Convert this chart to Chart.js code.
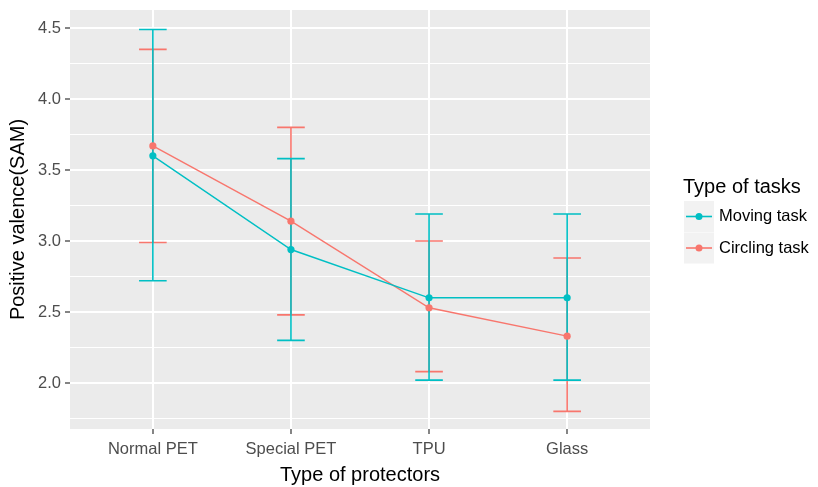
<!DOCTYPE html>
<html>
<head>
<meta charset="utf-8">
<script src="https://cdn.jsdelivr.net/npm/chart.js@4.4.1/dist/chart.umd.min.js"></script>
<style>
  html, body { margin: 0; padding: 0; background: #fff; }
</style>
</head>
<body>
<canvas id="chart" width="818" height="487"></canvas>
<script>
var categories = ['Normal PET', 'Special PET', 'TPU', 'Glass'];

// Moving task (teal)
var movingMean = [3.60, 2.94, 2.60, 2.60];
var movingLow  = [2.72, 2.30, 2.02, 2.02];
var movingHigh = [4.49, 3.58, 3.19, 3.19];

// Circling task (red)
var circlingMean = [3.67, 3.14, 2.53, 2.33];
var circlingLow  = [2.99, 2.48, 2.08, 1.80];
var circlingHigh = [4.35, 3.80, 3.00, 2.88];

var yTicks = [1.75, 2.0, 2.25, 2.5, 2.75, 3.0, 3.25, 3.5, 3.75, 4.0, 4.25, 4.5];
var yMajor = [2.0, 2.5, 3.0, 3.5, 4.0, 4.5];

var TEAL = '#00BFC4';
var RED = '#F8766D';
var FONT = '"Liberation Sans", Arial, sans-serif';

function isMajor(v) {
    return yMajor.some(function (m) { return Math.abs(m - v) < 1e-6; });
}

function toPoints(arr) {
    return arr.map(function (v, i) { return { x: i + 1, y: v }; });
}

var panelBg = {
    id: 'panelBg',
    beforeDraw: function (chart) {
        var a = chart.chartArea, ctx = chart.ctx;
        ctx.save();
        ctx.fillStyle = '#EBEBEB';
        ctx.fillRect(a.left, a.top, a.right - a.left, a.bottom - a.top);
        ctx.restore();
    }
};

var errorBars = {
    id: 'errorBars',
    beforeDatasetsDraw: function (chart) {
        var ctx = chart.ctx, xs = chart.scales.x, ys = chart.scales.y;
        var sets = [
            { low: circlingLow, high: circlingHigh, color: RED },
            { low: movingLow, high: movingHigh, color: TEAL }
        ];
        ctx.save();
        ctx.lineWidth = 1.6;
        sets.forEach(function (s) {
            ctx.strokeStyle = s.color;
            s.low.forEach(function (lo, i) {
                var x = xs.getPixelForValue(i + 1);
                var x0 = xs.getPixelForValue(i + 0.9);
                var x1 = xs.getPixelForValue(i + 1.1);
                var yl = ys.getPixelForValue(lo);
                var yh = ys.getPixelForValue(s.high[i]);
                ctx.beginPath();
                ctx.moveTo(x, yl); ctx.lineTo(x, yh);
                ctx.moveTo(x0, yl); ctx.lineTo(x1, yl);
                ctx.moveTo(x0, yh); ctx.lineTo(x1, yh);
                ctx.stroke();
            });
        });
        ctx.restore();
    }
};

var ggLegend = {
    id: 'ggLegend',
    afterDraw: function (chart) {
        var ctx = chart.ctx;
        var items = [
            { label: 'Moving task', color: TEAL },
            { label: 'Circling task', color: RED }
        ];
        ctx.save();
        ctx.fillStyle = '#000';
        ctx.font = '20px ' + FONT;
        ctx.textBaseline = 'middle';
        ctx.fillText('Type of tasks', 683, 187);
        items.forEach(function (it, i) {
            var top = 201 + i * 31.5;
            ctx.fillStyle = '#F2F2F2';
            ctx.fillRect(684, top, 30, 31);
            var cy = top + 15.5;
            ctx.strokeStyle = it.color;
            ctx.lineWidth = 1.6;
            ctx.beginPath();
            ctx.moveTo(686, cy); ctx.lineTo(712, cy);
            ctx.stroke();
            ctx.fillStyle = it.color;
            ctx.beginPath();
            ctx.arc(699, cy, 3.5, 0, Math.PI * 2);
            ctx.fill();
            ctx.fillStyle = '#000';
            ctx.font = '16.5px ' + FONT;
            ctx.fillText(it.label, 719, cy);
        });
        ctx.restore();
    }
};

window.onload = function () {
    var ctx = document.getElementById('chart');
    new Chart(ctx, {
        type: 'line',
        data: {
            datasets: [
                {
                    label: 'Moving task',
                    data: toPoints(movingMean),
                    borderColor: TEAL,
                    backgroundColor: TEAL,
                    borderWidth: 1.4,
                    pointRadius: 3.6,
                    pointBorderWidth: 0,
                    tension: 0
                },
                {
                    label: 'Circling task',
                    data: toPoints(circlingMean),
                    borderColor: RED,
                    backgroundColor: RED,
                    borderWidth: 1.4,
                    pointRadius: 3.6,
                    pointBorderWidth: 0,
                    tension: 0
                }
            ]
        },
        options: {
            responsive: false,
            animation: false,
            layout: { padding: { top: 10, right: 168, left: 0, bottom: 0 } },
            plugins: {
                legend: { display: false },
                tooltip: { enabled: false }
            },
            scales: {
                x: {
                    type: 'linear',
                    min: 0.4,
                    max: 4.6,
                    afterBuildTicks: function (s) {
                        s.ticks = categories.map(function (c, i) { return { value: i + 1 }; });
                    },
                    afterFit: function (s) {
                        s.height = 58;
                        s.paddingLeft = 0; s.paddingRight = 0;
                    },
                    border: { display: false },
                    grid: {
                        color: '#FFFFFF',
                        lineWidth: 2,
                        tickColor: '#333333',
                        tickLength: 5,
                        tickWidth: 1.2
                    },
                    ticks: {
                        autoSkip: false,
                        maxRotation: 0,
                        padding: 6,
                        color: '#4D4D4D',
                        font: { family: FONT, size: 16.5 },
                        callback: function (v) { return categories[v - 1]; }
                    },
                    title: {
                        display: true,
                        text: 'Type of protectors',
                        color: '#000',
                        font: { family: FONT, size: 20, lineHeight: 1.0 },
                        padding: { top: 0, bottom: 2 }
                    }
                },
                y: {
                    type: 'linear',
                    min: 1.676,
                    max: 4.627,
                    afterBuildTicks: function (s) {
                        s.ticks = yTicks.map(function (v) { return { value: v }; });
                    },
                    afterFit: function (s) {
                        s.width = 70;
                        s.paddingTop = 0; s.paddingBottom = 0;
                    },
                    border: { display: false },
                    grid: {
                        color: '#FFFFFF',
                        lineWidth: function (c) { return c.tick && isMajor(c.tick.value) ? 2 : 1.1; },
                        tickColor: function (c) { return c.tick && isMajor(c.tick.value) ? '#333333' : 'rgba(0,0,0,0)'; },
                        tickLength: 5,
                        tickWidth: 1.2
                    },
                    ticks: {
                        autoSkip: false,
                        padding: 4,
                        color: '#4D4D4D',
                        font: { family: FONT, size: 16.5 },
                        callback: function (v) { return isMajor(v) ? v.toFixed(1) : ''; }
                    },
                    title: {
                        display: true,
                        text: 'Positive valence(SAM)',
                        color: '#000',
                        font: { family: FONT, size: 20 },
                        padding: { top: 6, bottom: 0 }
                    }
                }
            }
        },
        plugins: [panelBg, errorBars, ggLegend]
    });
};
</script>
</body>
</html>
